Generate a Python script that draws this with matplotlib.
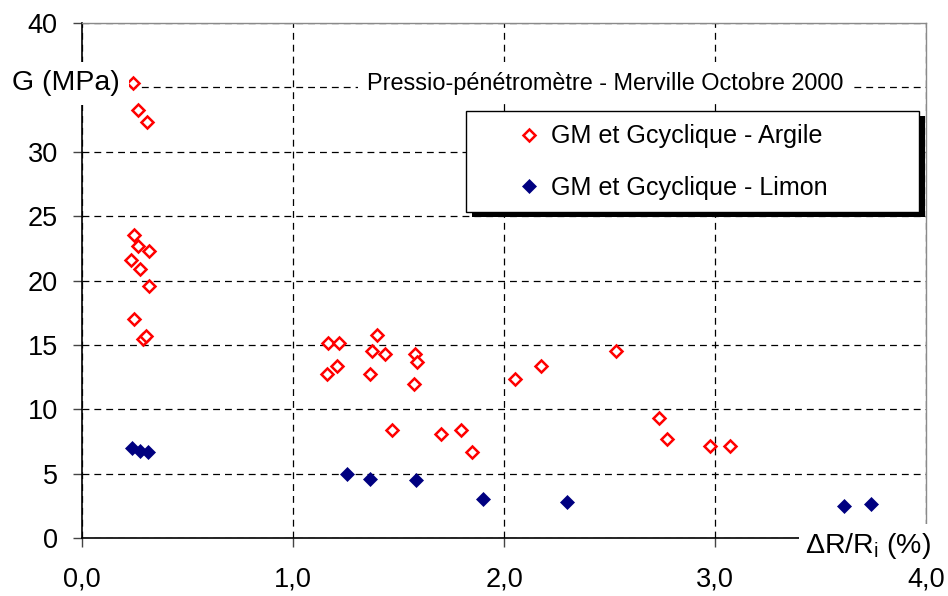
import matplotlib

matplotlib.use("Agg")
import matplotlib.pyplot as plt
from matplotlib.patches import Rectangle


# =========================================================
# Data
# =========================================================
ARGILE_X = [0.24, 0.267, 0.307, 0.246, 0.267, 0.318, 0.232, 0.275, 0.319, 0.246, 0.29, 0.303,
            1.167, 1.218, 1.398, 1.376, 1.438, 1.580, 1.586, 1.21, 1.16, 1.366, 1.575,
            2.054, 1.471, 1.701, 1.798, 1.848, 2.175, 2.529, 2.733, 2.774, 2.978, 3.07]
ARGILE_Y = [35.3, 33.2, 32.3, 23.5, 22.7, 22.3, 21.6, 20.9, 19.6, 17.0, 15.44, 15.7,
            15.13, 15.13, 15.8, 14.5, 14.3, 14.28, 13.7, 13.37, 12.75, 12.75, 11.95,
            12.34, 8.41, 8.07, 8.41, 6.73, 13.35, 14.56, 9.37, 7.69, 7.15, 7.2]

LIMON_X = [0.238, 0.275, 0.314, 1.256, 1.365, 1.583, 1.899, 2.297, 3.613, 3.738]
LIMON_Y = [6.99, 6.78, 6.68, 5.02, 4.64, 4.53, 3.04, 2.8, 2.52, 2.7]

X_TICKS = [0.0, 1.0, 2.0, 3.0, 4.0]
X_TICK_LABELS = ["0,0", "1,0", "2,0", "3,0", "4,0"]
Y_TICKS = [0, 5, 10, 15, 20, 25, 30, 35, 40]
Y_TICK_LABELS = ["0", "5", "10", "15", "20", "25", "30", "", "40"]

LABEL_ARGILE = "GM et Gcyclique - Argile"
LABEL_LIMON = "GM et Gcyclique - Limon"
TITLE = "Pressio-pénétromètre - Merville Octobre 2000"
Y_LABEL = "G (MPa)"
X_LABEL = r"ΔR/R$_{\mathrm{i}}$ (%)"


# =========================================================
# Style
# =========================================================
plt.rcParams["font.family"] = ["Liberation Sans", "DejaVu Sans"]
plt.rcParams["mathtext.fontset"] = "custom"
plt.rcParams["mathtext.rm"] = "Liberation Sans"
plt.rcParams["mathtext.it"] = "Liberation Sans:italic"

RED = "#ff0000"
NAVY = "#000080"
DPI = 100

# legend box in axes fraction (frame drawn by hand, Excel style)
LEG_X0, LEG_Y0, LEG_W, LEG_H = 0.455, 0.633, 0.537, 0.1957
SHADOW_DX, SHADOW_DY = 0.0068, -0.0100


def main() -> None:
    fig = plt.figure(figsize=(9.48, 5.96), dpi=DPI)
    ax = fig.add_axes([0.0865, 0.0965, 0.8903, 0.8657])

    ax.plot(ARGILE_X, ARGILE_Y, linestyle="none", marker="D", markersize=6.6,
            markerfacecolor="white", markeredgecolor=RED, markeredgewidth=1.8,
            label=LABEL_ARGILE, zorder=3, clip_on=False)
    ax.plot(LIMON_X, LIMON_Y, linestyle="none", marker="D", markersize=7.2,
            markerfacecolor=NAVY, markeredgecolor=NAVY, markeredgewidth=0.5,
            label=LABEL_LIMON, zorder=3, clip_on=False)

    ax.set_xlim(0, 4)
    ax.set_ylim(0, 40)
    ax.set_xticks(X_TICKS)
    ax.set_xticklabels(X_TICK_LABELS)
    ax.set_yticks(Y_TICKS)
    ax.set_yticklabels(Y_TICK_LABELS)
    ax.tick_params(axis="both", labelsize=19.5, length=6.5, width=1, color="#444444")
    ax.tick_params(axis="y", pad=11)
    ax.tick_params(axis="x", pad=14)

    ax.grid(True, color="black", linestyle=(0, (5.5, 4)), linewidth=0.9)
    ax.set_axisbelow(True)

    for side in ["left", "bottom"]:
        ax.spines[side].set_color("black")
        ax.spines[side].set_linewidth(1.2)
        ax.spines[side].set_zorder(2.5)
    for side in ["top", "right"]:
        ax.spines[side].set_color("#8a8a8a")
        ax.spines[side].set_linewidth(1.0)

    ax.text(-0.33, 35.3, Y_LABEL, fontsize=20.5, ha="left", va="center",
            bbox=dict(boxstyle="square,pad=0.3", facecolor="white", edgecolor="none"),
            zorder=6, clip_on=False)
    ax.text(1.351, 35.3, TITLE, fontsize=16.9, ha="left", va="center",
            bbox=dict(boxstyle="square,pad=0.4", facecolor="white", edgecolor="none"),
            zorder=6)
    ax.text(3.427, -0.55, X_LABEL, fontsize=20.5, ha="left", va="center",
            bbox=dict(boxstyle="square,pad=0.22", facecolor="white", edgecolor="none"),
            zorder=6, clip_on=False)

    # legend frame + black drop shadow
    ax.add_patch(Rectangle((LEG_X0 + SHADOW_DX, LEG_Y0 + SHADOW_DY), LEG_W, LEG_H,
                           transform=ax.transAxes, facecolor="black", edgecolor="none",
                           zorder=6.5, clip_on=False))
    ax.add_patch(Rectangle((LEG_X0, LEG_Y0), LEG_W, LEG_H, transform=ax.transAxes,
                           facecolor="white", edgecolor="black", linewidth=1.0,
                           zorder=6.6, clip_on=False))

    leg = ax.legend(loc="center left", bbox_to_anchor=(0.5162, 0.7297),
                    borderaxespad=0, borderpad=0, fontsize=18.1, frameon=False,
                    labelspacing=1.08, handlelength=0.9, handletextpad=0.43,
                    numpoints=1, markerscale=0.95)
    leg.set_zorder(7)

    fig.savefig("out.png", dpi=DPI, facecolor="white")
    plt.close(fig)


if __name__ == "__main__":
    main()
